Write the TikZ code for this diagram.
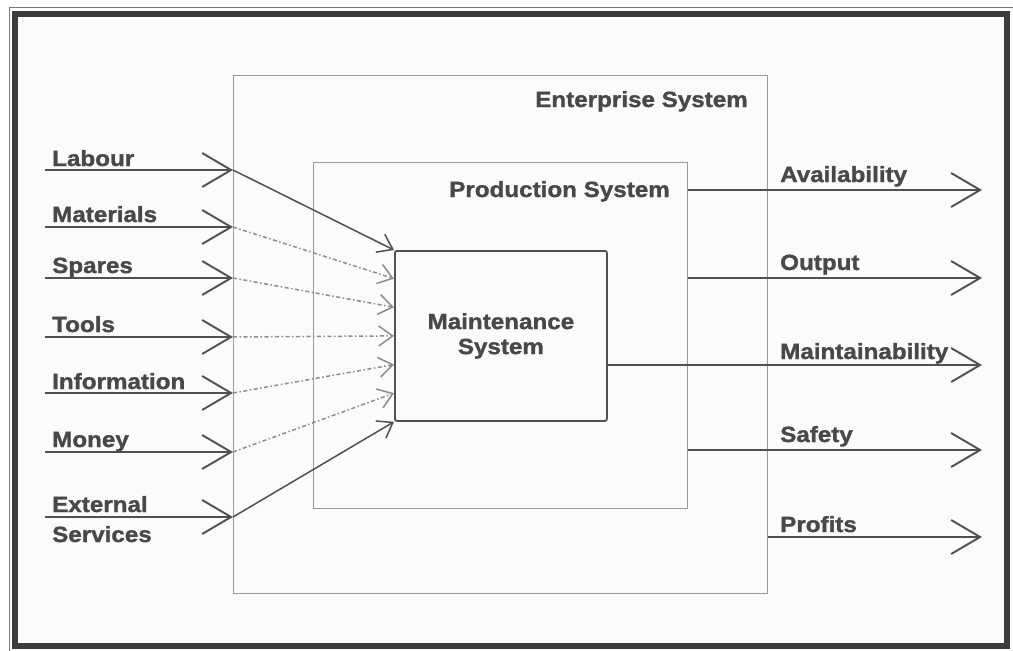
\documentclass[tikz,border=0pt]{standalone}
\usepackage{fontspec}
\setmainfont{Liberation Sans}
\newfontfamily\lblfont[FakeStretch=1.1,FakeBold=1.3]{Liberation Sans Bold}
\usetikzlibrary{arrows.meta,calc}
\definecolor{frm}{HTML}{3C3C3C}
\definecolor{ln}{HTML}{505050}
\definecolor{txt}{HTML}{484848}
\definecolor{boxc}{HTML}{9A9A9A}
\definecolor{dsh}{HTML}{8C8C8C}
\definecolor{bg}{HTML}{FAFBFB}
\begin{document}
\begin{tikzpicture}[x=1pt,y=-1pt,
  lbl/.style={font=\lblfont\fontsize{22}{25}\selectfont, text=txt, inner sep=0pt},
  sysbox/.style={draw=boxc, line width=1pt, inner sep=0pt, anchor=north west},
  mainbox/.style={draw=ln, line width=1.8pt, rounded corners=2pt, inner sep=0pt, anchor=north west, align=center},
  bigarrow/.style={draw=ln, line width=1.7pt, -{Straight Barb[length=29pt,width=34pt,line width=1.9pt]}},
  solidin/.style={draw=ln, line width=1.5pt, -{Straight Barb[length=14pt,width=20pt,line width=1.5pt]}},
  dashin/.style={draw=dsh, line width=1.5pt, dash pattern=on 4pt off 2.5pt on 1.5pt off 2.5pt, -{Straight Barb[length=14pt,width=20pt,line width=1.5pt]}}
]
\useasboundingbox (0,0) rectangle (1013,651);
% outer frame
\fill[bg] (15,13) rectangle (1006,646);
\draw[frm, line width=6pt] (15,13.5) rectangle (1006.5,646);
\draw[frm!70, line width=1pt] (9,651) -- (9,7.5) -- (1013,7.5);

% boxes
\node[sysbox, minimum width=534pt, minimum height=518pt] (ent) at (233,75) {};
\node[sysbox, minimum width=374pt, minimum height=346pt] (prod) at (313,162) {};
\node[mainbox, minimum width=212pt, minimum height=170pt] (maint) at (394,250) {};
\node[lbl, align=center] (mtxt) at (maint.center) {Maintenance\\System};
\node[lbl, anchor=base east] (enttxt) at (748,107) {Enterprise System};
\node[lbl, anchor=base east] (prodtxt) at (670,197) {Production System};

% input coordinates
\coordinate (i1) at (45,170);
\coordinate (i2) at (45,227);
\coordinate (i3) at (45,278);
\coordinate (i4) at (45,337);
\coordinate (i5) at (45,393);
\coordinate (i6) at (45,452);
\coordinate (i7) at (45,517);
\foreach \k in {1,...,7}{
  \coordinate (t\k) at (ent.west |- i\k);
  \coordinate (m\k) at ($(maint.north west)!{(\k-1)/6}!(maint.south west)$);
  \draw[bigarrow] (i\k) -- (t\k);
}
\draw[solidin] (t1) -- (m1);
\foreach \k in {2,...,6}{ \draw[dashin] (t\k) -- (m\k); }
\draw[solidin] (t7) -- (m7);

% input labels
\node[lbl, anchor=base west] (l1) at (52,166) {Labour};
\node[lbl, anchor=base west] (l2) at (52,222) {Materials};
\node[lbl, anchor=base west] (l3) at (52,273) {Spares};
\node[lbl, anchor=base west] (l4) at (52,332) {Tools};
\node[lbl, anchor=base west] (l5) at (52,389) {Information};
\node[lbl, anchor=base west] (l6) at (52,447) {Money};
\node[lbl, anchor=base west] (l7) at (52,512) {External};
\node[lbl, anchor=base west] (l7b) at (52,542) {Services};

% outputs
\coordinate (e1) at (982,190);
\coordinate (e2) at (982,278);
\coordinate (e3) at (982,365);
\coordinate (e4) at (982,450);
\coordinate (e5) at (982,537);
\draw[bigarrow] (prod.east |- e1) -- (e1);
\draw[bigarrow] (prod.east |- e2) -- (e2);
\draw[bigarrow] (maint.east |- e3) -- (e3);
\draw[bigarrow] (prod.east |- e4) -- (e4);
\draw[bigarrow] (ent.east |- e5) -- (e5);
\node[lbl, anchor=base west] (o1) at (780,182) {Availability};
\node[lbl, anchor=base west] (o2) at (780,270) {Output};
\node[lbl, anchor=base west] (o3) at (780,359) {Maintainability};
\node[lbl, anchor=base west] (o4) at (780,442) {Safety};
\node[lbl, anchor=base west] (o5) at (780,532) {Profits};
\end{tikzpicture}
\end{document}
